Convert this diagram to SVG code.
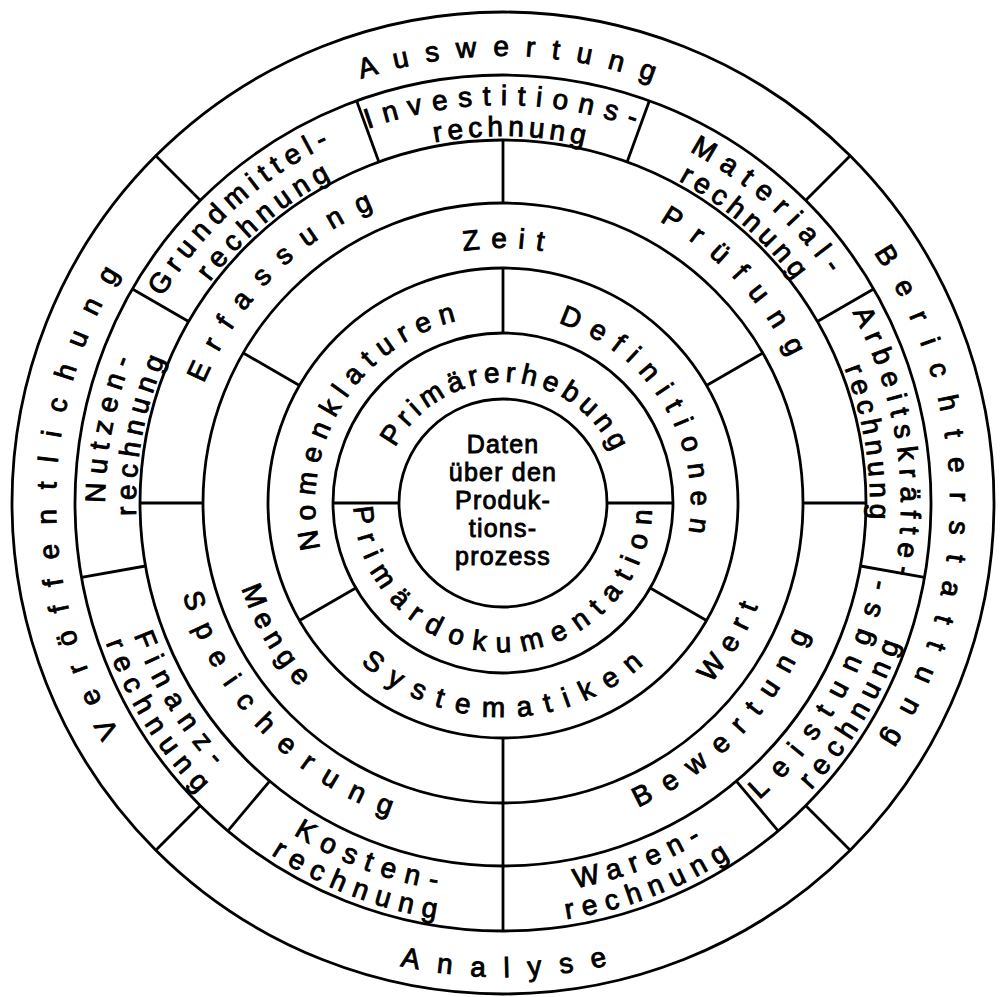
<svg xmlns="http://www.w3.org/2000/svg" width="1000" height="997" viewBox="0 0 1000 997">
<style>
.ring{fill:none;stroke:#000;stroke-width:2.8}
.div line{stroke:#000;stroke-width:2.8}
.t{font-family:"Liberation Sans",Arial,sans-serif;font-size:28px;fill:#000;stroke:#000;stroke-width:0.9;text-anchor:middle}
.c{font-family:"Liberation Sans",Arial,sans-serif;font-size:25px;letter-spacing:1.2px;fill:#000;stroke:#000;stroke-width:0.9;text-anchor:middle}
</style>
<defs>
<path id="cw447" d="M -387.1 223.5 A 447 447 0 1 1 387.1 223.5"/>
<path id="cw398" d="M -344.7 199 A 398 398 0 1 1 344.7 199"/>
<path id="cw367" d="M -317.8 183.5 A 367 367 0 1 1 317.8 183.5"/>
<path id="cw322" d="M -278.9 161 A 322 322 0 1 1 278.9 161"/>
<path id="cw255" d="M -220.8 127.5 A 255 255 0 1 1 220.8 127.5"/>
<path id="cw188" d="M -162.8 94 A 188 188 0 1 1 162.8 94"/>
<path id="cw121" d="M -104.8 60.5 A 121 121 0 1 1 104.8 60.5"/>
<path id="ccw474" d="M -410.5 -237 A 474 474 0 1 0 410.5 -237"/>
<path id="ccw392" d="M -339.5 -196 A 392 392 0 1 0 339.5 -196"/>
<path id="ccw421" d="M -364.6 -210.5 A 421 421 0 1 0 364.6 -210.5"/>
<path id="ccw333" d="M -288.4 -166.5 A 333 333 0 1 0 288.4 -166.5"/>
<path id="ccw275" d="M -238.2 -137.5 A 275 275 0 1 0 238.2 -137.5"/>
<path id="ccw214" d="M -185.3 -107 A 214 214 0 1 0 185.3 -107"/>
<path id="ccw149" d="M -129 -74.5 A 149 149 0 1 0 129 -74.5"/>
</defs>
<rect width="1000" height="997" fill="#fff"/>
<g id="rings">
<circle class="ring" cx="503" cy="503" r="491"/>
<circle class="ring" cx="503" cy="503" r="428"/>
<circle class="ring" cx="503" cy="503" r="363"/>
<circle class="ring" cx="503" cy="503" r="300"/>
<circle class="ring" cx="503" cy="503" r="235"/>
<circle class="ring" cx="503" cy="503" r="170"/>
<circle class="ring" cx="503" cy="503" r="104"/>
</g>
<g id="connectors" class="div">
<line x1="155.8" y1="155.8" x2="200.4" y2="200.4"/>
<line x1="850.2" y1="155.8" x2="805.6" y2="200.4"/>
<line x1="850.2" y1="850.2" x2="805.6" y2="805.6"/>
<line x1="155.8" y1="850.2" x2="200.4" y2="805.6"/>
<line x1="378.9" y1="161.9" x2="356.6" y2="100.8"/>
<line x1="627.1" y1="161.9" x2="649.4" y2="100.8"/>
<line x1="817.4" y1="321.5" x2="873.6" y2="289"/>
<line x1="860.5" y1="566" x2="924.5" y2="577.3"/>
<line x1="736.3" y1="781.1" x2="778.1" y2="830.8"/>
<line x1="269.7" y1="781.1" x2="227.9" y2="830.8"/>
<line x1="145.5" y1="566" x2="81.5" y2="577.3"/>
<line x1="188.6" y1="321.5" x2="132.4" y2="289"/>
<line x1="503" y1="140" x2="503" y2="203"/>
<line x1="803" y1="503" x2="866" y2="503"/>
<line x1="203" y1="503" x2="140" y2="503"/>
<line x1="503" y1="738" x2="503" y2="931"/>
<line x1="299.5" y1="385.5" x2="243.2" y2="353"/>
<line x1="706.5" y1="385.5" x2="762.8" y2="353"/>
<line x1="503" y1="333" x2="503" y2="268"/>
<line x1="650.2" y1="588" x2="706.5" y2="620.5"/>
<line x1="355.8" y1="588" x2="299.5" y2="620.5"/>
<line x1="607" y1="503" x2="673" y2="503"/>
<line x1="399" y1="503" x2="333" y2="503"/>
</g>
<g id="center">
<text class="c" x="503" y="453">Daten</text>
<text class="c" x="503" y="481">über den</text>
<text class="c" x="503" y="509">Produk-</text>
<text class="c" x="503" y="537">tions-</text>
<text class="c" x="503" y="565">prozess</text>
</g>
<g id="primaererhebung" transform="translate(503 503) rotate(2.25)"><text class="t" letter-spacing="5.3"><textPath href="#cw121" startOffset="50%">Primärerhebung</textPath></text></g>
<g id="primaerdokumentation" transform="translate(503 503) rotate(-1.44)"><text class="t" letter-spacing="10.6"><textPath href="#ccw149" startOffset="50%">Primärdokumentation</textPath></text></g>
<g id="nomenklaturen" transform="translate(503 503) rotate(302.1)"><text class="t" letter-spacing="8.7"><textPath href="#cw188" startOffset="50%">Nomenklaturen</textPath></text></g>
<g id="definitionen" transform="translate(503 503) rotate(59.7)"><text class="t" letter-spacing="11"><textPath href="#cw188" startOffset="50%">Definitionen</textPath></text></g>
<g id="systematiken" transform="translate(503 503) rotate(-1.46)"><text class="t" letter-spacing="12.8"><textPath href="#ccw214" startOffset="50%">Systematiken</textPath></text></g>
<g id="zeit" transform="translate(503 503) rotate(1.24)"><text class="t" letter-spacing="11"><textPath href="#cw255" startOffset="50%">Zeit</textPath></text></g>
<g id="wert" transform="translate(503 503) rotate(-59.6)"><text class="t" letter-spacing="10.7"><textPath href="#ccw275" startOffset="50%">Wert</textPath></text></g>
<g id="menge" transform="translate(503 503) rotate(59.2)"><text class="t" letter-spacing="7.4"><textPath href="#ccw275" startOffset="50%">Menge</textPath></text></g>
<g id="erfassung" transform="translate(503 503) rotate(-44.6)"><text class="t" letter-spacing="15.5"><textPath href="#cw322" startOffset="50%">Erfassung</textPath></text></g>
<g id="pruefung" transform="translate(503 503) rotate(47.4)"><text class="t" letter-spacing="15.5"><textPath href="#cw322" startOffset="50%">Prüfung</textPath></text></g>
<g id="bewertung" transform="translate(503 503) rotate(-46.65)"><text class="t" letter-spacing="14.5"><textPath href="#ccw333" startOffset="50%">Bewertung</textPath></text></g>
<g id="speicherung" transform="translate(503 503) rotate(45.65)"><text class="t" letter-spacing="15.7"><textPath href="#ccw333" startOffset="50%">Speicherung</textPath></text></g>
<g id="investitionsrechnung">
<g transform="translate(503 503) rotate(0.43)"><text class="t" letter-spacing="10.2"><textPath href="#cw398" startOffset="50%">Investitions-</textPath></text></g>
<g transform="translate(503 503) rotate(1.37)"><text class="t" letter-spacing="4.8"><textPath href="#cw367" startOffset="50%">rechnung</textPath></text></g>
</g>
<g id="materialrechnung">
<g transform="translate(503 503) rotate(42.1)"><text class="t" letter-spacing="9.8"><textPath href="#cw398" startOffset="50%">Material-</textPath></text></g>
<g transform="translate(503 503) rotate(41.0)"><text class="t" letter-spacing="5.3"><textPath href="#cw367" startOffset="50%">rechnung</textPath></text></g>
</g>
<g id="arbeitskraefterechnung">
<g transform="translate(503 503) rotate(81.4)"><text class="t" letter-spacing="8"><textPath href="#cw398" startOffset="50%">Arbeitskräfte-</textPath></text></g>
<g transform="translate(503 503) rotate(80.9)"><text class="t" letter-spacing="5.3"><textPath href="#cw367" startOffset="50%">rechnung</textPath></text></g>
</g>
<g id="leistungsrechnung">
<g transform="translate(503 503) rotate(-60.6)"><text class="t" letter-spacing="14.2"><textPath href="#ccw392" startOffset="50%">Leistungs-</textPath></text></g>
<g transform="translate(503 503) rotate(-59.3)"><text class="t" letter-spacing="8"><textPath href="#ccw421" startOffset="50%">rechnung</textPath></text></g>
</g>
<g id="warenrechnung">
<g transform="translate(503 503) rotate(-21.2)"><text class="t" letter-spacing="9"><textPath href="#ccw392" startOffset="50%">Waren-</textPath></text></g>
<g transform="translate(503 503) rotate(-21.2)"><text class="t" letter-spacing="8.5"><textPath href="#ccw421" startOffset="50%">rechnung</textPath></text></g>
</g>
<g id="kostenrechnung">
<g transform="translate(503 503) rotate(20.3)"><text class="t" letter-spacing="9.75"><textPath href="#ccw392" startOffset="50%">Kosten-</textPath></text></g>
<g transform="translate(503 503) rotate(20.7)"><text class="t" letter-spacing="8.8"><textPath href="#ccw421" startOffset="50%">rechnung</textPath></text></g>
</g>
<g id="finanzrechnung">
<g transform="translate(503 503) rotate(58.25)"><text class="t" letter-spacing="10.3"><textPath href="#ccw392" startOffset="50%">Finanz-</textPath></text></g>
<g transform="translate(503 503) rotate(57.9)"><text class="t" letter-spacing="8.8"><textPath href="#ccw421" startOffset="50%">rechnung</textPath></text></g>
</g>
<g id="nutzenrechnung">
<g transform="translate(503 503) rotate(281.1)"><text class="t" letter-spacing="8"><textPath href="#cw398" startOffset="50%">Nutzen-</textPath></text></g>
<g transform="translate(503 503) rotate(281)"><text class="t" letter-spacing="6.2"><textPath href="#cw367" startOffset="50%">rechnung</textPath></text></g>
</g>
<g id="grundmittelrechnung">
<g transform="translate(503 503) rotate(-41.9)"><text class="t" letter-spacing="6.8"><textPath href="#cw398" startOffset="50%">Grundmittel-</textPath></text></g>
<g transform="translate(503 503) rotate(-40.0)"><text class="t" letter-spacing="6.2"><textPath href="#cw367" startOffset="50%">rechnung</textPath></text></g>
</g>
<g id="auswertung" transform="translate(503 503) rotate(1.56)"><text class="t" letter-spacing="16.5"><textPath href="#cw447" startOffset="50%">Auswertung</textPath></text></g>
<g id="berichterstattung" transform="translate(503 503) rotate(90.2)"><text class="t" letter-spacing="18.95"><textPath href="#cw447" startOffset="50%">Berichterstattung</textPath></text></g>
<g id="analyse" transform="translate(503 503) rotate(-1.2)"><text class="t" letter-spacing="18.3"><textPath href="#ccw474" startOffset="50%">Analyse</textPath></text></g>
<g id="veroeffentlichung" transform="translate(503 503) rotate(271.2)"><text class="t" letter-spacing="18.8"><textPath href="#cw447" startOffset="50%">Veröffentlichung</textPath></text></g>
</svg>
